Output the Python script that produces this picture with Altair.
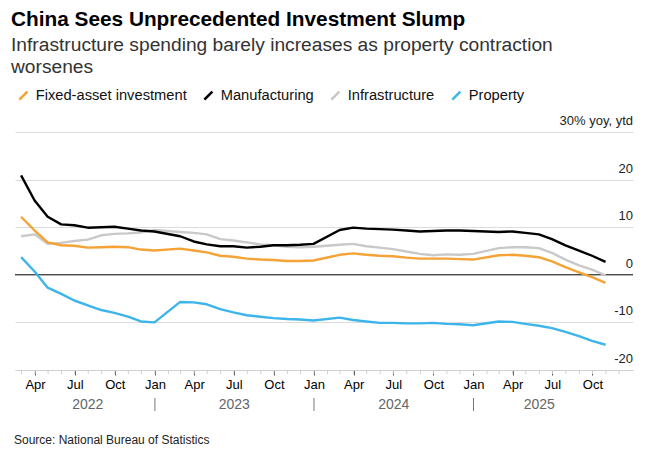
import altair as alt
import pandas as pd

# ---- data ----
months = (
    [f"2022-{m:02d}" for m in range(2, 13)]
    + [f"2023-{m:02d}" for m in range(2, 13)]
    + [f"2024-{m:02d}" for m in range(2, 13)]
    + [f"2025-{m:02d}" for m in range(2, 11)]
)
fai = [12.2, 9.3, 6.8, 6.2, 6.1, 5.7, 5.8, 5.9, 5.8, 5.3, 5.1,
       5.5, 5.1, 4.7, 4.0, 3.8, 3.4, 3.2, 3.1, 2.9, 2.9, 3.0,
       4.2, 4.5, 4.2, 4.0, 3.9, 3.6, 3.4, 3.4, 3.4, 3.3, 3.2,
       4.1, 4.2, 4.0, 3.7, 2.8, 1.6, 0.5, -0.5, -1.7]
manufacturing = [20.9, 15.6, 12.2, 10.6, 10.4, 9.9, 10.0, 10.1, 9.7, 9.3, 9.1,
                 8.1, 7.0, 6.4, 6.0, 6.0, 5.7, 5.9, 6.2, 6.2, 6.3, 6.5,
                 9.4, 9.9, 9.7, 9.6, 9.5, 9.3, 9.1, 9.2, 9.3, 9.3, 9.2,
                 9.0, 9.1, 8.8, 8.5, 7.5, 6.2, 5.1, 4.0, 2.7]
infrastructure = [8.1, 8.5, 6.5, 6.7, 7.1, 7.4, 8.3, 8.6, 8.7, 8.9, 9.4,
                  9.0, 8.8, 8.5, 7.5, 7.2, 6.8, 6.4, 6.2, 5.9, 5.8, 5.9,
                  6.3, 6.5, 6.0, 5.7, 5.4, 4.9, 4.4, 4.1, 4.3, 4.2, 4.4,
                  5.6, 5.8, 5.8, 5.6, 4.6, 3.2, 2.0, 1.1, -0.1]
prop = [3.7, 0.7, -2.7, -4.0, -5.4, -6.4, -7.4, -8.0, -8.8, -9.8, -10.0,
        -5.7, -5.8, -6.2, -7.2, -7.9, -8.5, -8.8, -9.1, -9.3, -9.4, -9.6,
        -9.0, -9.5, -9.8, -10.1, -10.1, -10.2, -10.2, -10.1, -10.3, -10.4, -10.6,
        -9.8, -9.9, -10.3, -10.7, -11.2, -12.0, -12.9, -13.9, -14.7]

series_names = ["Fixed-asset investment", "Manufacturing", "Infrastructure", "Property"]
series_colors = ["#f5a236", "#000000", "#c9c9c9", "#3db5ea"]

y_ticks = [30, 20, 10, 0, -10, -20]
y_tick_labels = ["30% yoy, ytd", "20", "10", "0", "-10", "-20"]
grid_values = [-20, -10, 10, 20, 30]

quarter_ticks = [(y, m) for y in (2022, 2023, 2024, 2025) for m in (1, 4, 7, 10) if not (y == 2022 and m == 1)]
minor_months = [f"{y}-{m:02d}-01" for y in (2022, 2023, 2024, 2025) for m in range(1, 13)
                if not (y == 2022 and m < 3)]
year_labels = ["2022", "2023", "2024", "2025"]
year_label_dates = ["2022-07-31", "2023-07-02", "2024-07-02", "2025-06-01"]
year_sep_dates = ["2023-01-01", "2024-01-01", "2025-01-01"]
source_text = ["Source: National Bureau of Statistics"]

FONT = "Liberation Sans"
W, H = 618, 238

# ---- build table (month-end dates) ----
dates = [(pd.Period(m, "M").end_time.normalize()).strftime("%Y-%m-%d") for m in months]
rows = []
draw_order = [("Infrastructure", infrastructure), ("Property", prop),
              ("Fixed-asset investment", fai), ("Manufacturing", manufacturing)]
for name, vals in draw_order:
    for d, v in zip(dates, vals):
        rows.append({"date": d, "value": v, "series": name})
df = pd.DataFrame(rows)

x_scale = alt.Scale(type="utc",
                    domain=[alt.DateTime(year=2022, month=2, date=14, utc=True),
                            alt.DateTime(year=2026, month=1, date=2, utc=True)])
y_scale = alt.Scale(domain=[-20, 30], nice=False)

tick_vals = [alt.DateTime(year=y, month=m, date=1, utc=True) for y, m in quarter_ticks]

lines = alt.Chart(df).mark_line(strokeWidth=2.4, strokeJoin="round").encode(
    x=alt.X("date:T", scale=x_scale, title=None,
            axis=alt.Axis(values=tick_vals, labelExpr="utcFormat(datum.value, '%b')",
                          grid=False, domainColor="#d0d0d0", domainWidth=1,
                          tickColor="#555", tickSize=5, tickWidth=1,
                          labelFont=FONT, labelFontSize=13, labelColor="#000",
                          labelPadding=3, labelFlush=False)),
    y=alt.Y("value:Q", scale=y_scale, title=None,
            axis=alt.Axis(values=grid_values, labels=False, ticks=False, domain=False,
                          grid=True, gridColor="#dcdcdc", gridWidth=1)),
    color=alt.Color("series:N",
                    scale=alt.Scale(domain=series_names, range=series_colors),
                    legend=alt.Legend(title=None, orient="none", direction="horizontal",
                                      legendX=1, legendY=-44,
                                      symbolType="M-1,1L1,-1", symbolSize=64,
                                      symbolStrokeWidth=2.5, labelFont=FONT,
                                      labelFontSize=14.7, labelColor="#111",
                                      labelOffset=5, columnPadding=12, padding=0)),
)

zero = alt.Chart(pd.DataFrame({"v": [0]})).mark_rule(color="#000", strokeWidth=1).encode(
    y=alt.Y("v:Q", scale=y_scale))

ylab = alt.Chart(pd.DataFrame({"v": y_ticks, "t": y_tick_labels})).mark_text(
    align="right", baseline="bottom", dy=-4, font=FONT, fontSize=13, color="#222"
).encode(y=alt.Y("v:Q", scale=y_scale), x=alt.value(W), text="t:N")

minor = alt.Chart(pd.DataFrame({"d": minor_months})).mark_rule(color="#cfcfcf", strokeWidth=1).encode(
    x=alt.X("d:T", scale=x_scale), y=alt.value(H), y2=alt.value(H + 4))

years = alt.Chart(pd.DataFrame({"d": year_label_dates, "t": year_labels})).mark_text(
    baseline="middle", align="center", font=FONT, fontSize=14, color="#666"
).encode(x=alt.X("d:T", scale=x_scale), y=alt.value(H + 35), text="t:N")

seps = alt.Chart(pd.DataFrame({"d": year_sep_dates})).mark_rule(color="#777", strokeWidth=1).encode(
    x=alt.X("d:T", scale=x_scale), y=alt.value(H + 28), y2=alt.value(H + 41))

src = alt.Chart(pd.DataFrame({"t": source_text})).mark_text(
    align="left", baseline="middle", font=FONT, fontSize=12, color="#222"
).encode(x=alt.value(-1), y=alt.value(H + 70), text="t:N")

chart = alt.layer(minor, zero, lines, ylab, years, seps, src).properties(
    width=W, height=H,
    autosize=alt.AutoSizeParams(type="none"),
    padding={"left": 7, "top": 124, "right": 17, "bottom": 76},
    title=alt.TitleParams(
        text="China Sees Unprecedented Investment Slump",
        subtitle=["Infrastructure spending barely increases as property contraction", "worsenes"],
        anchor="start", dx=-3, offset=10,
        font=FONT, fontSize=20.8, fontWeight="bold", color="#000",
        subtitleFont=FONT, subtitleFontSize=19.2, subtitleColor="#333",
        subtitleLineHeight=22, subtitlePadding=5,
    ),
).configure_view(stroke=None)

chart.save("out.html", embed_options={"renderer": "svg", "actions": False})
